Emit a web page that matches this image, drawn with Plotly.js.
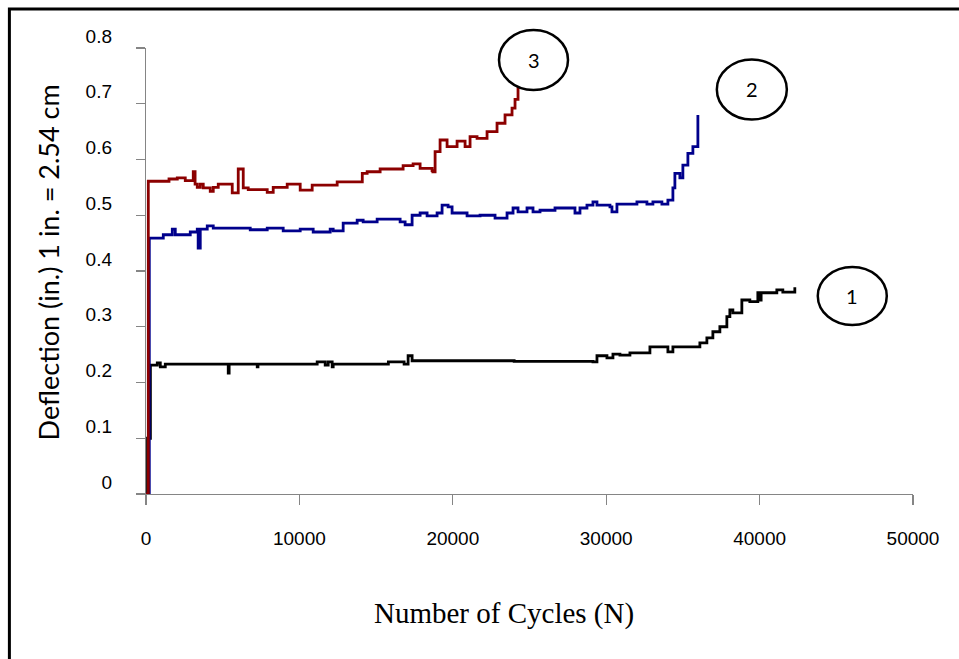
<!DOCTYPE html>
<html>
<head>
<meta charset="utf-8">
<script src="https://cdn.plot.ly/plotly-3.0.1.min.js"></script>
<style>html,body{margin:0;padding:0;background:#fff;}#chart{width:959px;height:659px;}</style>
</head>
<body>
<div id="chart"></div>
<script>
// Series 1 (black)
const cycles1 = [0,100,287,736,932,1257,5300,5361,5420,7251,7300,11159,11550,11681,11876,12137,12202,15719,15800,16761,16826,17087,17347,24000,29137,29398,30049,30440,30896,31547,32655,32850,33957,34022,34348,35911,36107,36563,36954,37410,37866,38062,38257,38843,39364,39885,40016,40100,40472,41123,41514,42296];
const defl1 = [0,0.1,0.231,0.235,0.228,0.233,0.233,0.217,0.233,0.228,0.233,0.237,0.237,0.231,0.237,0.228,0.233,0.233,0.237,0.237,0.233,0.248,0.239,0.238,0.237,0.248,0.244,0.251,0.249,0.253,0.253,0.264,0.264,0.255,0.264,0.264,0.271,0.28,0.291,0.3,0.318,0.33,0.325,0.348,0.345,0.361,0.348,0.361,0.361,0.366,0.362,0.371];

// Series 2 (blue)
const cycles2 = [0,215,932,1127,1713,1909,2690,2886,3342,3400,3537,3993,4384,6795,7902,8553,8944,10052,10899,12006,12202,12853,13765,14156,15068,16110,16566,16891,17347,17868,18324,18975,19301,19692,19953,20474,20930,21777,22754,23536,23927,24252,24838,25229,25685,26662,27835,27965,28290,28746,29137,29398,30245,30375,30700,32003,32655,33045,33631,34022,34348,34478,34804,34999,35325,35651,35977,35977];
const defl2 = [0,0.459,0.459,0.465,0.475,0.465,0.465,0.47,0.475,0.441,0.475,0.481,0.477,0.474,0.477,0.477,0.472,0.475,0.47,0.475,0.472,0.486,0.491,0.488,0.493,0.493,0.488,0.483,0.5,0.504,0.499,0.504,0.518,0.515,0.504,0.504,0.499,0.5,0.495,0.504,0.513,0.506,0.513,0.506,0.509,0.513,0.513,0.504,0.513,0.518,0.524,0.518,0.515,0.506,0.52,0.524,0.52,0.524,0.52,0.527,0.549,0.575,0.567,0.59,0.611,0.623,0.647,0.68];

// Series 3 (red)
const cycles3 = [0,150,736,1500,2039,2560,3081,3200,3342,3537,3732,4188,4384,4710,5492,5622,6013,6339,6665,7642,7902,8293,9205,9857,10052,10833,11550,12462,13960,14100,14416,15263,16761,17412,17868,18650,18700,18846,19171,19627,20279,20800,21125,21581,22233,22884,23405,23861,24057,24252];
const defl3 = [0,0.561,0.561,0.565,0.567,0.562,0.578,0.556,0.55,0.556,0.549,0.543,0.55,0.556,0.556,0.54,0.583,0.549,0.546,0.546,0.541,0.55,0.556,0.556,0.545,0.554,0.554,0.56,0.56,0.575,0.578,0.583,0.589,0.592,0.584,0.58,0.578,0.614,0.635,0.623,0.633,0.623,0.641,0.638,0.65,0.665,0.68,0.692,0.708,0.73];

// Curve labels (data units)
const labelText = ['3','2','1'];
const labelX = [25261, 39494, 46042];
const labelY = [0.7785, 0.7256, 0.3552];

const xTickVals = [0,10000,20000,30000,40000,50000];
const yTickVals = [0,0.1,0.2,0.3,0.4,0.5,0.6,0.7,0.8];
const xRange = [0,50000], yRange = [0,0.8];

const traces = [
  {x: cycles1, y: defl1, mode:'lines', line:{color:'#000000', width:2.8, shape:'hv'}, name:'1'},
  {x: cycles2, y: defl2, mode:'lines', line:{color:'#00008c', width:2.8, shape:'hv'}, name:'2'},
  {x: cycles3, y: defl3, mode:'lines', line:{color:'#8c0000', width:2.8, shape:'hv'}, name:'3'}
];

const rx = [34.5, 35, 34.5], ry = [30, 30, 29];
const shapes = [{
  type:'rect', xref:'paper', yref:'paper',
  x0:-0.1781, x1:1.08, y0:-0.42, y1:1.0874,
  line:{color:'#000', width:3}, fillcolor:'rgba(0,0,0,0)', layer:'below'
}];
const annotations = [];
for (let i = 0; i < labelText.length; i++) {
  const px = (labelX[i]-xRange[0])/(xRange[1]-xRange[0]);
  const py = (labelY[i]-yRange[0])/(yRange[1]-yRange[0]);
  shapes.push({
    type:'circle', xref:'paper', yref:'paper',
    xsizemode:'pixel', ysizemode:'pixel',
    xanchor: px, yanchor: py,
    x0:-rx[i], x1:rx[i], y0:-ry[i], y1:ry[i],
    line:{color:'#000', width:2.5}, fillcolor:'#fff'
  });
  annotations.push({
    x: px, y: py, xref:'paper', yref:'paper', xanchor:'center', yanchor:'middle',
    text: labelText[i], showarrow:false,
    font:{family:'Lato, "Open Sans", sans-serif', size:20, color:'#000'}
  });
}
// axis titles
annotations.push({
  text:'Number of Cycles (N)', xref:'paper', yref:'paper',
  x:(504-145.7)/767.6, y:-(613-494)/446, xanchor:'center', yanchor:'middle', showarrow:false,
  font:{family:'"Liberation Serif", "Times New Roman", serif', size:29, color:'#000'}
});
annotations.push({
  text:'Deflection (in.) 1 in. = 2.54 cm', xref:'paper', yref:'paper', textangle:-90,
  x:(48-145.7)/767.6, y:(494-262)/446, xanchor:'center', yanchor:'middle', showarrow:false,
  font:{family:'Lato, "Open Sans", sans-serif', size:27, color:'#000'}
});

const layout = {
  width:959, height:659,
  margin:{l:145.7, r:45.7, t:48, b:165, pad:0},
  paper_bgcolor:'#fff', plot_bgcolor:'#fff',
  showlegend:false,
  xaxis:{
    range:xRange, tickvals:xTickVals, ticktext:xTickVals.map(String),
    showgrid:false, zeroline:false, showline:true, linecolor:'#858585', linewidth:1.2,
    ticks:'outside', ticklen:10, tickcolor:'#858585', tickwidth:1.2,
    ticklabelstandoff:17,
    tickfont:{family:'"Liberation Sans", Arial, sans-serif', size:19, color:'#000'}
  },
  yaxis:{
    range:yRange, tickvals:yTickVals, ticktext:yTickVals.map(v => v===0 ? '0' : v.toFixed(1)),
    showgrid:false, zeroline:false, showline:true, linecolor:'#858585', linewidth:1.2,
    ticks:'outside', ticklen:9, tickcolor:'#858585', tickwidth:1.2,
    ticklabelstandoff:20, ticklabelshift:-12,
    tickfont:{family:'"Liberation Sans", Arial, sans-serif', size:19, color:'#000'}
  },
  shapes: shapes,
  annotations: annotations
};

Plotly.newPlot('chart', traces, layout, {displayModeBar:false, staticPlot:true});
</script>
</body>
</html>
